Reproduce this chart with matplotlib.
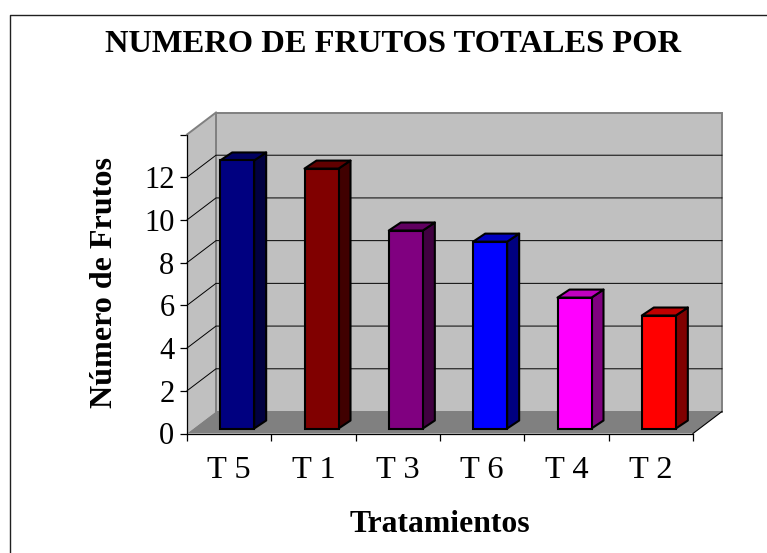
# -*- coding: utf-8 -*-
import matplotlib
matplotlib.use("Agg")
import matplotlib.pyplot as plt
from matplotlib.patches import Polygon, Rectangle

W, H = 767, 553

tratamientos = ['T 5', 'T 1', 'T 3', 'T 6', 'T 4', 'T 2']
frutos = [12.55, 12.17, 9.27, 8.75, 6.13, 5.29]
front_colors = ['#000080', '#800000', '#800080', '#0000FF', '#FF00FF', '#FF0000']
side_colors = ['#000040', '#400000', '#400040', '#000080', '#800080', '#800000']
top_colors = ['#000060', '#600000', '#600060', '#0000C0', '#C000C0', '#C00000']
y_ticks = [0, 2, 4, 6, 8, 10, 12, 14]
y_labels = ['0', '2', '4', '6', '8', '10', '12', '']

plt.rcParams['font.family'] = ['Liberation Serif', 'DejaVu Serif']

fig = plt.figure(figsize=(W / 100, H / 100), dpi=100, facecolor='white')

# outer chart border, only left and top are inside the picture
fig.add_artist(plt.Line2D([9.5 / W, 9.5 / W, 1], [0, 1 - 14.5 / H, 1 - 14.5 / H],
                          color='#202020', linewidth=1.0))

# front plane of the 3d box
left, right, bottom, top = 187, 693, 433.5, 134.5
ax = fig.add_axes([left / W, 1 - bottom / H, (right - left) / W, (bottom - top) / H])
ax.set_xlim(0, 6)
ax.set_ylim(0, 14)
ax.patch.set_visible(False)

px_x = 6 / (right - left)
px_y = 14 / (bottom - top)
depth_x = 29 * px_x
depth_y = 22 * px_y

# walls and floor
ax.add_patch(Rectangle((depth_x, depth_y), 6, 14, facecolor='#C0C0C0',
                       edgecolor='#808080', linewidth=1.4, clip_on=False, zorder=1))
ax.add_patch(Polygon([(0, 0), (depth_x, depth_y), (depth_x, 14 + depth_y), (0, 14)],
                     facecolor='#C0C0C0', edgecolor='none', clip_on=False, zorder=1))
ax.plot([depth_x, depth_x], [depth_y, 14 + depth_y], color='#808080', lw=1.4,
        clip_on=False, zorder=2)
ax.plot([0, depth_x], [14, 14 + depth_y], color='#808080', lw=1.4, clip_on=False, zorder=2)
ax.add_patch(Polygon([(0, 0), (6, 0), (6 + depth_x, depth_y), (depth_x, depth_y)],
                     facecolor='#808080', edgecolor='none', clip_on=False, zorder=3))
ax.plot([6, 6 + depth_x], [0, depth_y], color='black', lw=0.8, clip_on=False, zorder=3)

# gridlines on back wall and side wall
for v in y_ticks[1:-1]:
    ax.plot([0, depth_x, 6 + depth_x], [v, v + depth_y, v + depth_y], color='black', lw=0.7,
            clip_on=False, zorder=2)

# bars, front face plus side and top faces
bar_w = 34 * px_x
bar_off_x = 8 * px_x
base = 5 * px_y
side_x = 12 * px_x
side_y = 8 * px_y
for i, val in enumerate(frutos):
    x0 = i + 0.5 + bar_off_x - bar_w / 2
    x1 = x0 + bar_w
    y1 = base + val
    ax.bar(i + 0.5 + bar_off_x, val, width=bar_w, bottom=base, color=front_colors[i],
           edgecolor='black', linewidth=1.5, zorder=6, clip_on=False)
    ax.add_patch(Polygon([(x1, base), (x1 + side_x, base + side_y), (x1 + side_x, y1 + side_y), (x1, y1)],
                         facecolor=side_colors[i], edgecolor='black', linewidth=1.5,
                         joinstyle='round', clip_on=False, zorder=5))
    ax.add_patch(Polygon([(x0, y1), (x1, y1), (x1 + side_x, y1 + side_y), (x0 + side_x, y1 + side_y)],
                         facecolor=top_colors[i], edgecolor='black', linewidth=1.5,
                         joinstyle='round', clip_on=False, zorder=5))

# axes and ticks
for name in ['top', 'right']:
    ax.spines[name].set_visible(False)
for name in ['left', 'bottom']:
    ax.spines[name].set_linewidth(0.9)
    ax.spines[name].set_zorder(7)
ax.set_yticks(y_ticks)
ax.set_yticklabels(y_labels, fontsize=22)
ax.set_xticks(range(7))
ax.set_xticklabels([])
ax.set_xticks([i + 0.5 for i in range(6)], minor=True)
ax.set_xticklabels(tratamientos, minor=True, fontsize=23.4)
ax.tick_params(axis='x', which='major', length=5, width=0.9, direction='out')
ax.tick_params(axis='x', which='minor', length=0, pad=16)
ax.tick_params(axis='y', length=5, width=0.9, direction='out', pad=4)

fig.text(393 / W, 1 - 44 / H, 'NUMERO DE FRUTOS TOTALES POR', fontsize=23.4, fontweight='bold',
         ha='center', va='center')
fig.text(105 / W, 1 - 283 / H, 'Número de Frutos', fontsize=23.1, fontweight='bold',
         rotation=90, ha='center', va='center')
fig.text(440 / W, 1 - 524 / H, 'Tratamientos', fontsize=22.8, fontweight='bold',
         ha='center', va='center')

fig.savefig('out.png', dpi=100)
